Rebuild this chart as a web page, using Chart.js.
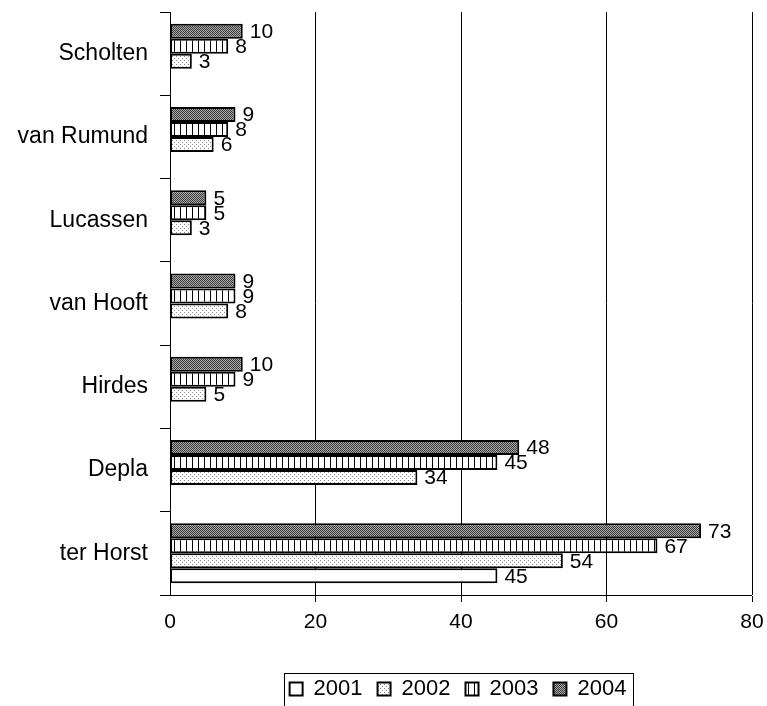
<!DOCTYPE html>
<html>
<head>
<meta charset="utf-8">
<script src="https://cdn.jsdelivr.net/npm/chart.js@4"></script>
<style>
  body { margin: 0; background: #fff; }
</style>
</head>
<body>
<canvas id="myChart" width="767" height="706"></canvas>
<script>
// categories, top to bottom
const categories = ['Scholten', 'van Rumund', 'Lucassen', 'van Hooft', 'Hirdes', 'Depla', 'ter Horst'];
const years = ['2001', '2002', '2003', '2004'];
const values2001 = [null, null, null, null, null, null, 45];
const values2002 = [3, 6, 3, 8, 5, 34, 54];
const values2003 = [8, 8, 5, 9, 9, 45, 67];
const values2004 = [10, 9, 5, 9, 10, 48, 73];
const xTicks = [0, 20, 40, 60, 80];

const font = '"Liberation Sans", Arial, sans-serif';

function makePattern(w, h, draw) {
    const c = document.createElement('canvas');
    c.width = w; c.height = h;
    const g = c.getContext('2d');
    draw(g);
    return document.getElementById('myChart').getContext('2d').createPattern(c, 'repeat');
}

const fill2001 = '#ffffff';
const fill2002 = makePattern(4, 4, g => {
    g.fillStyle = '#fff'; g.fillRect(0, 0, 4, 4);
    g.fillStyle = '#8a8a8a';
    g.fillRect(0, 0, 1, 1); g.fillRect(2, 2, 1, 1);
});
const fill2003 = makePattern(6, 2, g => {
    g.fillStyle = '#fff'; g.fillRect(0, 0, 6, 2);
    g.fillStyle = '#000'; g.fillRect(0, 0, 1, 2);
});
const fill2004 = makePattern(2, 2, g => {
    g.fillStyle = '#a8a8a8'; g.fillRect(0, 0, 2, 2);
    g.fillStyle = '#3c3c3c'; g.fillRect(0, 0, 1, 1); g.fillRect(1, 1, 1, 1);
});

function series(label, data, fill) {
    return {
        label: label,
        data: data,
        backgroundColor: fill,
        borderColor: '#000',
        borderWidth: 2,
        borderSkipped: false,
        categoryPercentage: 0.72,
        barPercentage: 1.0
    };
}

const valueLabels = {
    id: 'valueLabels',
    afterDatasetsDraw(chart) {
        const ctx = chart.ctx;
        ctx.save();
        ctx.font = '21px ' + font;
        ctx.fillStyle = '#000';
        ctx.textBaseline = 'middle';
        ctx.textAlign = 'left';
        chart.data.datasets.forEach((ds, i) => {
            chart.getDatasetMeta(i).data.forEach((el, j) => {
                const v = ds.data[j];
                if (v === null) return;
                ctx.fillText(String(v), el.x + 7, el.y + 1);
            });
        });
        ctx.restore();
    }
};

// centre the legend under the plot area and frame it
const legendBox = {
    id: 'legendBox',
    afterLayout(chart) {
        const lg = chart.legend;
        const area = chart.chartArea;
        const w = lg.width;
        const mid = (area.left + area.right) / 2 - 3;
        lg.left = mid - w / 2;
        lg.right = mid + w / 2;
        lg.top += 4;
        lg.bottom += 4;
    },
    afterDraw(chart) {
        const lg = chart.legend;
        const area = chart.chartArea;
        const mid = (area.left + area.right) / 2 - 3;
        const bw = lg.lineWidths[0] - 3;
        const ctx = chart.ctx;
        ctx.save();
        ctx.strokeStyle = '#000';
        ctx.lineWidth = 1;
        ctx.strokeRect(Math.round(mid - bw / 2) + 0.5, 673.5, Math.round(bw), 60);
        ctx.restore();
    }
};

const ctx = document.getElementById('myChart').getContext('2d');
const myChart = new Chart(ctx, {
    type: 'bar',
    data: {
        labels: categories,
        datasets: [
            series(years[3], values2004, fill2004),
            series(years[2], values2003, fill2003),
            series(years[1], values2002, fill2002),
            series(years[0], values2001, fill2001)
        ]
    },
    options: {
        indexAxis: 'y',
        responsive: false,
        animation: false,
        layout: { padding: { left: 0, right: 15, top: 12, bottom: 0 } },
        scales: {
            x: {
                min: 0,
                max: 80,
                afterBuildTicks: scale => { scale.ticks = xTicks.map(v => ({ value: v })); },
                afterFit: scale => {
                    scale.height = 64;
                    scale.paddingLeft = 0;
                    scale.paddingRight = 0;
                },
                grid: {
                    color: '#000',
                    lineWidth: ctx => ctx.tick && ctx.tick.value === 0 ? 0 : 1,
                    tickColor: '#000',
                    tickLength: 7,
                    drawTicks: true
                },
                border: { color: '#000', width: 1 },
                ticks: { color: '#000', font: { family: font, size: 21 }, padding: 8, maxRotation: 0 }
            },
            y: {
                afterFit: scale => {
                    scale.width = 170;
                    scale.paddingTop = 0;
                    scale.paddingBottom = 0;
                },
                grid: {
                    drawOnChartArea: false,
                    offset: true,
                    tickColor: '#000',
                    tickLength: 10
                },
                border: { color: '#000', width: 1 },
                ticks: { color: '#000', font: { family: font, size: 23 }, padding: 12 }
            }
        },
        plugins: {
            tooltip: { enabled: false },
            legend: {
                position: 'bottom',
                reverse: true,
                labels: {
                    color: '#000',
                    font: { family: font, size: 22 },
                    boxWidth: 13,
                    boxHeight: 13,
                    padding: 15
                }
            }
        }
    },
    plugins: [valueLabels, legendBox]
});
</script>
</body>
</html>
